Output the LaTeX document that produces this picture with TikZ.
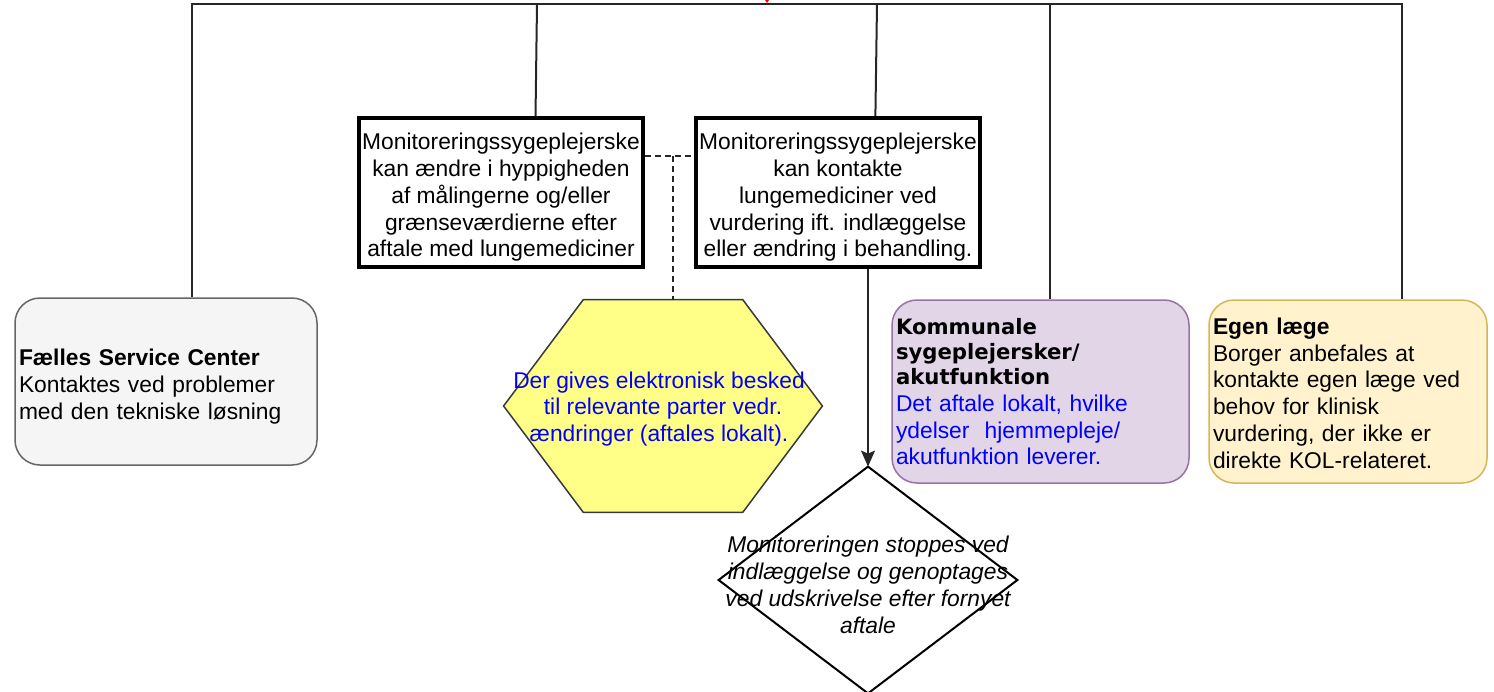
\documentclass[tikz,border=0pt]{standalone}
\usepackage{fontspec}
\setmainfont{Liberation Sans}
\newfontfamily\headfont{DejaVu Sans}
\usetikzlibrary{arrows.meta,calc,backgrounds}
\definecolor{fscfill}{HTML}{F5F5F5}
\definecolor{fscline}{HTML}{666666}
\definecolor{hexfill}{HTML}{FFFF88}
\definecolor{hexline}{HTML}{36393D}
\definecolor{komfill}{HTML}{E1D5E7}
\definecolor{komline}{HTML}{9673A6}
\definecolor{egenfill}{HTML}{FFF2CC}
\definecolor{egenline}{HTML}{D6B656}
\definecolor{msgblue}{HTML}{0000FF}
\newcommand{\lowr}[1]{\rule{0pt}{#1}}
\begin{document}
\begin{tikzpicture}[x=0.5pt,y=-0.5pt,
    txt/.style={font=\fontsize{11.4}{13.4}\selectfont, inner sep=0pt},
    roundbox/.style={txt, draw, rounded corners=12.5pt, line width=0.75pt, align=left, inner xsep=2pt},
    monbox/.style={txt, draw, line width=1.8pt, minimum width=142pt, minimum height=74.5pt, align=center},
    link/.style={line width=1pt, black!85}]
                \useasboundingbox (0,0) rectangle (1494,691);
                \coordinate (tapA) at (192,4);
                \coordinate (tapB) at (537,4);
                \coordinate (tapC) at (877,4);
                \coordinate (tapD) at (1050,4);
                \coordinate (tapE) at (1402,4);
                \coordinate (redtip) at (767,3);
                \node [roundbox, fill=fscfill, draw=fscline, minimum width=151pt, minimum height=83.5pt, text width=147pt] (fsc) at (166,381.5)
                    {\lowr{13.2pt}\textbf{Fælles Service Center}\\ Kontaktes ved problemer\\ med den tekniske løsning};
                \node [monbox] (mon1) at (501,192.5)
                    {\lowr{13.2pt}Monitoreringssygeplejerske\\ kan ændre i hyppigheden\\ af målingerne og/eller\\ grænseværdierne efter\\ aftale med lungemediciner};
                \node [monbox] (mon2) at (838,192.5)
                    {\lowr{13.2pt}Monitoreringssygeplejerske\\ kan kontakte\\ lungemediciner ved\\ vurdering ift. indlæggelse\\ eller ændring i behandling.};
                \node [txt, minimum width=159pt, minimum height=106pt, align=center, text=msgblue] (hexa) at (663,406)
                    {\lowr{11.2pt}Der gives elektronisk besked\hspace*{4pt}\\ til relevante parter vedr.\hspace*{4pt}\\ ændringer (aftales lokalt).\hspace*{4pt}};
                \node [txt, minimum width=149pt, minimum height=113pt, align=center, font=\fontsize{11.4}{13.4}\selectfont\itshape] (dia) at (868,580)
                    {\lowr{13.2pt}Monitoreringen stoppes ved\\ indlæggelse og genoptages\\ ved udskrivelse efter fornyet\\ aftale};
                \node [roundbox, fill=komfill, draw=komline, minimum width=148.5pt, minimum height=91.5pt, text width=144.5pt] (kom) at (1040.5,391.5)
                    {{\headfont\bfseries\fontsize{10.6}{12.6}\selectfont Kommunale\\ sygeplejersker/\\ akutfunktion\par}
                     {\color{msgblue}Det aftale lokalt, hvilke\\ ydelser\ \ hjemmepleje/\\ akutfunktion leverer.}};
                \node [roundbox, fill=egenfill, draw=egenline, minimum width=139pt, minimum height=91.5pt, text width=135pt] (egen) at (1348,391.5)
                    {\lowr{10pt}\textbf{Egen læge}\\ Borger anbefales at\\ kontakte egen læge ved\\ behov for klinisk\\ vurdering, der ikke er\\ direkte KOL-relateret.};
                \begin{scope}[on background layer]
                \draw [fill=hexfill, draw=hexline, line width=0.75pt] (hexa.west)
                    -- ($(hexa.north west)!0.25!(hexa.north east)$) -- ($(hexa.north west)!0.75!(hexa.north east)$)
                    -- (hexa.east)
                    -- ($(hexa.south west)!0.75!(hexa.south east)$) -- ($(hexa.south west)!0.25!(hexa.south east)$) -- cycle;
                \draw [line width=1pt] (dia.north) -- (dia.east) -- (dia.south) -- (dia.west) -- cycle;
                \end{scope}
                % connectors to the top line
                \draw [link] (tapA |- fsc.north) -- (tapA) -- (tapE) -- (tapE |- egen.north);
                \draw [link] ($(mon1.north west)!0.62!(mon1.north east)$) -- (tapB);
                \draw [link] ($(mon2.north west)!0.63!(mon2.north east)$) -- (tapC);
                \draw [link] (tapD |- kom.north) -- (tapD);
                \fill [red] (redtip) -- ++(-4,-6) -- ++(8,0) -- cycle;
                % dashed link to the message
                \coordinate (dashL) at ($(mon1.north east)!0.26!(mon1.south east)$);
                \coordinate (dashM) at ($(dashL)+(28,0)$);
                \draw [link, dash pattern=on 3pt off 2pt] (dashL) -- (dashL -| mon2.west);
                \draw [link, dash pattern=on 3pt off 2pt] (dashM) -- (dashM |- hexa.north);
                % arrow to the diamond
                \draw [link, -{Stealth[length=8pt,width=7pt,inset=1.5pt]}] (dia.north |- mon2.south) -- (dia.north);
            \end{tikzpicture}
\end{document}
